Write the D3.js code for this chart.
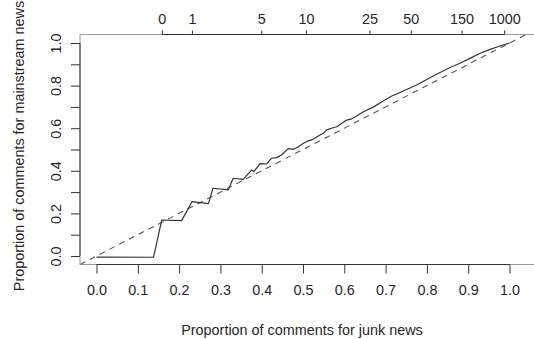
<!DOCTYPE html>
<html>
<head>
<meta charset="utf-8">
<script src="https://cdn.jsdelivr.net/npm/d3@7"></script>
<style>
  body { margin: 0; background: #fff; }
  svg text { font-family: "Liberation Sans", Arial, sans-serif; font-size: 14.4px; fill: #262626; }
</style>
</head>
<body>
<svg id="chart" width="534" height="339"></svg>
<script>
// proportion of comments for junk news (x) vs mainstream news (y)
var junkProp = [0.0, 0.138, 0.158, 0.206, 0.231, 0.271, 0.282, 0.319, 0.331, 0.355,
  0.376, 0.381, 0.396, 0.412, 0.424, 0.436, 0.448, 0.464, 0.477, 0.489,
  0.501, 0.509, 0.521, 0.533, 0.541, 0.549, 0.557, 0.569, 0.582, 0.594,
  0.606, 0.618, 0.630, 0.646, 0.670, 0.694, 0.715, 0.735, 0.775, 0.815,
  0.856, 0.880, 0.904, 0.929, 0.953, 0.977, 1.0];
var mainProp = [-0.005, -0.006, 0.169, 0.166, 0.255, 0.246, 0.318, 0.310, 0.365, 0.360,
  0.404, 0.396, 0.434, 0.432, 0.459, 0.462, 0.474, 0.504, 0.501, 0.513,
  0.529, 0.538, 0.545, 0.559, 0.568, 0.576, 0.592, 0.600, 0.607, 0.623,
  0.638, 0.644, 0.657, 0.677, 0.699, 0.728, 0.751, 0.768, 0.803, 0.845,
  0.885, 0.905, 0.928, 0.952, 0.970, 0.986, 1.0];

var xTicks = [0, 0.1, 0.2, 0.3, 0.4, 0.5, 0.6, 0.7, 0.8, 0.9, 1.0];
var yTicks = [0, 0.1, 0.2, 0.3, 0.4, 0.5, 0.6, 0.7, 0.8, 0.9, 1.0];
// top axis: comment-count thresholds, placed at the junk proportion they reach
var topTickPos = [0.158, 0.231, 0.399, 0.507, 0.661, 0.761, 0.884, 0.987];
var topTickLabels = ["0", "1", "5", "10", "25", "50", "150", "1000"];

var svg = d3.select("#chart");

// plot region runs past the right edge of the picture
var x = d3.scaleLinear().domain([-0.04, 1.1]).range([80, 80 + 1.14 * 413]);
var y = d3.scaleLinear().domain([-0.04, 1.04]).range([264.5, 34.5]);

// plot box (light grey)
svg.append("rect")
  .attr("x", x(-0.04)).attr("y", y(1.04))
  .attr("width", x(1.1) - x(-0.04)).attr("height", y(-0.04) - y(1.04))
  .attr("fill", "none").attr("stroke", "#9a9a9a").attr("stroke-width", 1);

svg.append("clipPath").attr("id", "plotclip").append("rect")
  .attr("x", x(-0.04)).attr("y", y(1.04))
  .attr("width", x(1.1) - x(-0.04)).attr("height", y(-0.04) - y(1.04));

var plot = svg.append("g").attr("clip-path", "url(#plotclip)");

// reference diagonal
plot.append("line")
  .attr("x1", x(-0.04)).attr("y1", y(-0.04))
  .attr("x2", x(1.1)).attr("y2", y(1.1))
  .attr("stroke", "#555").attr("stroke-width", 1.1)
  .attr("stroke-dasharray", "6,5");

var line = d3.line()
  .x(function(d, i) { return x(junkProp[i]); })
  .y(function(d, i) { return y(mainProp[i]); });

plot.append("path")
  .datum(junkProp)
  .attr("d", line)
  .attr("fill", "none")
  .attr("stroke", "#333")
  .attr("stroke-width", 1.2)
  .attr("stroke-linejoin", "round");

// axes: R style, line only from first to last tick
function styleAxis(g, a, b, horizontal) {
  g.select(".domain").remove();
  g.selectAll(".tick line").attr("stroke", "#333");
  g.selectAll("text").attr("fill", null);
  if (horizontal) {
    g.append("line").attr("x1", a).attr("x2", b).attr("y1", 0).attr("y2", 0).attr("stroke", "#333");
  } else {
    g.append("line").attr("y1", a).attr("y2", b).attr("x1", 0).attr("x2", 0).attr("stroke", "#333");
  }
}

var bottomAxis = svg.append("g")
  .attr("transform", "translate(0," + y(-0.04) + ")")
  .call(d3.axisBottom(x).tickValues(xTicks).tickSize(9).tickPadding(11)
    .tickFormat(d3.format(".1f")));
styleAxis(bottomAxis, x(0), x(1), true);

var topAxis = svg.append("g")
  .attr("transform", "translate(0," + y(1.04) + ")")
  .call(d3.axisTop(x).tickValues(topTickPos).tickSize(4).tickPadding(7)
    .tickFormat(function(d, i) { return topTickLabels[i]; }));
styleAxis(topAxis, x(topTickPos[0]), x(topTickPos[topTickPos.length - 1]), true);

var leftAxis = svg.append("g")
  .attr("transform", "translate(" + x(-0.04) + ",0)")
  .call(d3.axisLeft(y).tickValues(yTicks).tickSize(9)
    .tickFormat(function(d) { return Math.round(d * 10) % 2 == 0 ? d3.format(".1f")(d) : ""; }));
styleAxis(leftAxis, y(0), y(1), false);
leftAxis.selectAll("text")
  .attr("x", 0).attr("y", 0).attr("dy", 0)
  .attr("text-anchor", "middle")
  .attr("transform", "translate(-19,0) rotate(-90)");

[bottomAxis, topAxis, leftAxis].forEach(function(g) {
  g.attr("font-family", null).attr("font-size", null);
});

// axis titles
svg.append("text")
  .attr("x", 302).attr("y", 334.5)
  .attr("text-anchor", "middle")
  .text("Proportion of comments for junk news");

svg.append("text")
  .attr("transform", "translate(24," + 146 + ") rotate(-90)")
  .attr("text-anchor", "middle")
  .text("Proportion of comments for mainstream news");
</script>
</body>
</html>
